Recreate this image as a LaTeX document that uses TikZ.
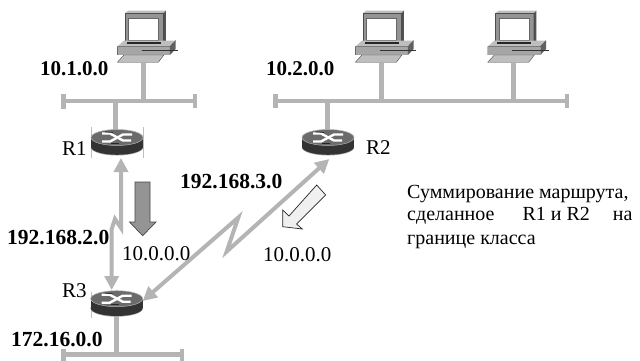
\documentclass[tikz,border=0pt]{standalone}
\usepackage{fontspec}
\setmainfont{Liberation Serif}
\usetikzlibrary{arrows.meta}
\definecolor{linkgray}{HTML}{B4B4B4}
\definecolor{pcmid}{HTML}{A6A6A6}
\definecolor{pclight}{HTML}{BEBEBE}
\tikzset{
  x=1pt,y=-1pt,
  busline/.style={draw=linkgray,line width=4.5pt},
  dbllink/.style={draw=linkgray,line width=4pt,line join=miter,{Triangle[length=14pt,width=14pt]}-{Triangle[length=14pt,width=14pt]}},
  plain label/.style={inner sep=0pt,anchor=base west,font=\fontsize{21}{21}\selectfont},
  bold label/.style={inner sep=0pt,anchor=base west,font=\fontsize{21}{21}\selectfont\bfseries},
  wide bold label/.style={bold label,font=\fontsize{21.5}{21}\selectfont\bfseries},
  caption label/.style={inner sep=0pt,anchor=base west,font=\fontsize{20}{22}\selectfont},
  routerbody/.style={minimum width=52pt,minimum height=26pt,inner sep=0pt},
  pc/.pic={
    \begin{scope}[x=.3333pt,y=-.3333pt,shift={(-430,-190)}]
      \fill[pclight] (375,40)--(385,32)--(498,32)--(490,40)--cycle;
      \fill[black!42] (375,40)--(490,40)--(490,133)--(375,133)--cycle;
      \fill[black!68] (490,40)--(498,32)--(498,125)--(490,133)--cycle;
      \draw[black!70,line width=.4pt] (375,133)--(375,40)--(490,40)--(490,133);
      \fill[white,draw=black!60,line width=.4pt] (385,55) rectangle (475,122);
      \fill[pclight] (352,140)--(372,122)--(527,122)--(510,140)--cycle;
      \fill[black!85] (380,125) rectangle (482,131);
      \fill[pcmid] (352,140)--(510,140)--(510,165)--(352,165)--cycle;
      \fill[black!62] (510,140)--(527,122)--(527,147)--(510,165)--cycle;
      \draw[black!70,line width=.4pt] (352,165)--(352,140)--(510,140)--(527,122);
      \draw[black!80,line width=.8pt] (425,152)--(535,152);
      \fill[pclight,draw=black!70,line width=.4pt] (352,187)--(372,165)--(492,165)--(475,187)--cycle;
    \end{scope}
  },
  router/.pic={
    \fill[black!35] (0,10) ellipse[x radius=26,y radius=8];
    \fill[black!80] (-26,0) rectangle (26,9.5);
    \fill[black!80] (0,9.3) ellipse[x radius=26,y radius=8];
    \fill[black!58] (0,0) ellipse[x radius=26,y radius=8];
    \draw[black!30,line width=.5pt] (0,0) ellipse[x radius=26,y radius=8];
    \draw[white,line width=2.4pt] (-15,-4)--(-7,-4)--(6,3)--(14,3);
    \draw[white,line width=2.4pt] (-15,4)--(-7,4)--(6,-3)--(15,-3);
    \draw[black!85,line width=.7pt] (-12,-5.6)--(-4,-5);
    \draw[black!85,line width=.7pt] (-6,5.6)--(2,5.6);
  }
}
\begin{document}
\begin{tikzpicture}
\useasboundingbox (0,0) rectangle (640,361);
\fill[white] (0,0) rectangle (640,361);

% named anchors
\node[routerbody] (r1) at (117,142) {};
\node[routerbody] (r2) at (328,142) {};
\node[routerbody] (r3) at (116.7,303) {};
\coordinate (pc1) at (143.3,63.3);
\coordinate (pc2) at (381.3,63.3);
\coordinate (pc3) at (513.7,63.3);
\coordinate (bus1w) at (63,101);
\coordinate (bus1e) at (195,101);
\coordinate (bus2w) at (275.5,101);
\coordinate (bus2e) at (567,101);
\coordinate (bus3w) at (63,354.5);
\coordinate (bus3e) at (182,354.5);

% buses
\draw[busline] (bus1w)--(bus1e);
\draw[busline] (63.5,94)--(63.5,109);
\draw[busline] (195,94)--(195,108);
\draw[busline] (bus2w)--(bus2e);
\draw[busline] (275.5,94)--(275.5,108);
\draw[busline] (567,94)--(567,108);
\draw[busline] (bus3w)--(bus3e);
\draw[busline] (63.5,349)--(63.5,361);
\draw[busline] (181.8,349)--(181.8,361);

% drops
\draw[busline] (pc1)--(pc1|-bus1w);
\draw[busline] (pc2)--(pc2|-bus1w);
\draw[busline] (pc3)--(pc3|-bus1w);
\draw[busline] (115.7,101)--(115.7,131);
\draw[busline] (327.5,101)--(327.5,131);
\draw[busline] (116.5,315)--(116.5,354);

% computers
\pic at (pc1) {pc};
\pic at (pc2) {pc};
\pic at (pc3) {pc};

% routers
\draw[black!25,line width=.5pt] (91,127)--(91,158) (143,127)--(143,158) (91,292)--(91,318);
\pic at (117,137.5) {router};
\pic at (328,137.5) {router};
\pic at (116.7,298.7) {router};

% serial links
\draw[dbllink] (121,158)--(121,228)--(115,219)--(111.7,229)--(111.7,290);
\draw[dbllink] (329.3,159)--(226.7,251.5)--(238.3,217.5)--(142.7,301);

% summary arrows
\fill[black!42,draw=black!72,line width=.7pt] (135,182)--(150,182)--(150,222)--(156,222)--(142.7,235.7)--(129.5,222)--(135,222)--cycle;
\fill[black!6,draw=black!85,line width=.7pt] (316.7,185)--(325.7,195)--(296.5,224)--(302.3,229)--(282.7,226.7)--(282.7,210)--(289,216)--cycle;

% labels
\node[bold label] (n1) at (40,76) {10.1.0.0};
\node[bold label] (n2) at (266,76) {10.2.0.0};
\node[wide bold label] (n3) at (180,188) {192.168.3.0};
\node[wide bold label] (n4) at (7,244) {192.168.2.0};
\node[wide bold label] (n5) at (11,346.7) {172.16.0.0};
\node[plain label] (t1) at (62,155) {R1};
\node[plain label] (t2) at (366,154) {R2};
\node[plain label] (t3) at (62,297.7) {R3};
\node[plain label] (s1) at (122,260.7) {10.0.0.0};
\node[plain label] (s2) at (263,261) {10.0.0.0};
\node[caption label] (c1) at (407,198) {Суммирование маршрута,};
\node[caption label] (c2) at (407,220.7) {сделанное\hspace{28pt}R1 и R2\hspace{23pt}на};
\node[caption label] (c3) at (407,244) {границе класса};
\end{tikzpicture}
\end{document}
